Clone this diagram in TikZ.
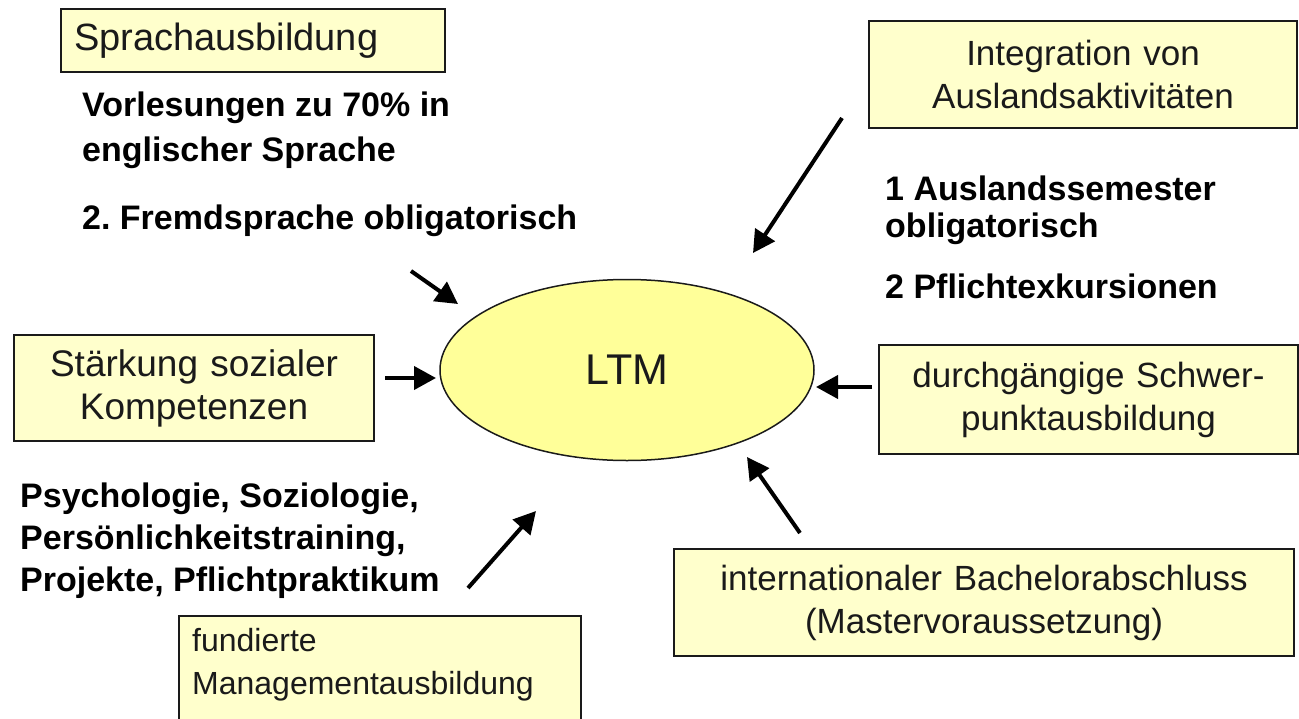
\documentclass[tikz,border=0pt]{standalone}
\usepackage{fontspec}
\setmainfont{Liberation Sans}
\usetikzlibrary{arrows.meta,shapes.geometric}
\definecolor{boxfill}{HTML}{FFFFCC}
\definecolor{ellfill}{HTML}{FFFF99}
\definecolor{ink}{HTML}{1A1A1A}
\frenchspacing
\begin{document}
\begin{tikzpicture}[x=1pt,y=-1pt,
  box/.style={draw=ink, line width=2pt, fill=boxfill, rectangle, inner sep=0pt, anchor=north west, text=ink},
  fs/.style={font=\fontsize{#1}{43}\selectfont},
  boldtext/.style={font=\fontsize{34}{42}\bfseries\selectfont, align=left, inner sep=0pt, anchor=north west, text=black},
  arr/.style={line width=4pt, draw=black, -{Triangle[length=22pt,width=23pt]}}]
\useasboundingbox (0,0) rectangle (1299,718);
\fill[white] (0,0) rectangle (1299,718);
\clip (0,0) rectangle (1299,718);

% boxes
\node[box, fs=38, minimum width=384, minimum height=63, text width=358, inner xsep=13pt, align=left] (sprache) at (60,8) {Sprachausbildung};
\node[box, fs=35, minimum width=428, minimum height=107, text width=428, align=center] (integ) at (868,20) {Integration von\\Auslandsaktivitäten};
\node[box, fs=37, minimum width=360, minimum height=106, text width=360, align=center] (staerk) at (13,334) {Stärkung sozialer\\Kompetenzen};
\node[box, fs=35, minimum width=419, minimum height=109, text width=419, align=center] (schwer) at (878,344) {durchgängige Schwer-\\punktausbildung};
\node[box, fs=35, minimum width=620, minimum height=107, text width=620, align=center] (bach) at (673,548) {internationaler Bachelorabschluss\\(Mastervoraussetzung)};
\node[box, minimum width=402, minimum height=130] (fund) at (178,615) {};
\node[fs=32, text=ink, align=left, inner sep=0pt, anchor=north west] (fundt) at (192,628) {fundierte\\Managementausbildung};

% central ellipse
\node[ellipse, draw=ink, line width=1.5pt, fill=ellfill, minimum width=374, minimum height=181,
  font=\fontsize{43}{50}\selectfont, text=ink] (ltm) at (627,370) {LTM};

% bold texts
\node[boldtext, font=\fontsize{34}{45}\bfseries\selectfont] (vorl) at (82,92) {Vorlesungen zu 70\% in\\englischer Sprache};
\node[boldtext] (fremd) at (82,205) {2. Fremdsprache obligatorisch};
\node[boldtext, font=\fontsize{34}{37}\bfseries\selectfont] (ausl) at (885,176) {1 Auslandssemester\\obligatorisch};
\node[boldtext] (exk) at (885,274) {2 Pflichtexkursionen};
\node[boldtext] (psy) at (20,483) {Psychologie, Soziologie,\\Persönlichkeitstraining,\\Projekte, Pflichtpraktikum};

% connector coordinates
\coordinate (a1s) at (411,271); \coordinate (a1e) at (458,304);
\coordinate (a2s) at (842,118); \coordinate (a2e) at (753,253);
\coordinate (a3s) at (385,378); \coordinate (a3e) at (436,378);
\coordinate (a4s) at (872,387); \coordinate (a4e) at (816,387);
\coordinate (a5s) at (468,588); \coordinate (a5e) at (536,511);
\coordinate (a6s) at (800,533); \coordinate (a6e) at (747,457);

\draw[arr] (a1s) -- (a1e);
\draw[arr] (a2s) -- (a2e);
\draw[arr] (a3s) -- (a3e);
\draw[arr] (a4s) -- (a4e);
\draw[arr] (a5s) -- (a5e);
\draw[arr] (a6s) -- (a6e);
\end{tikzpicture}
\end{document}
